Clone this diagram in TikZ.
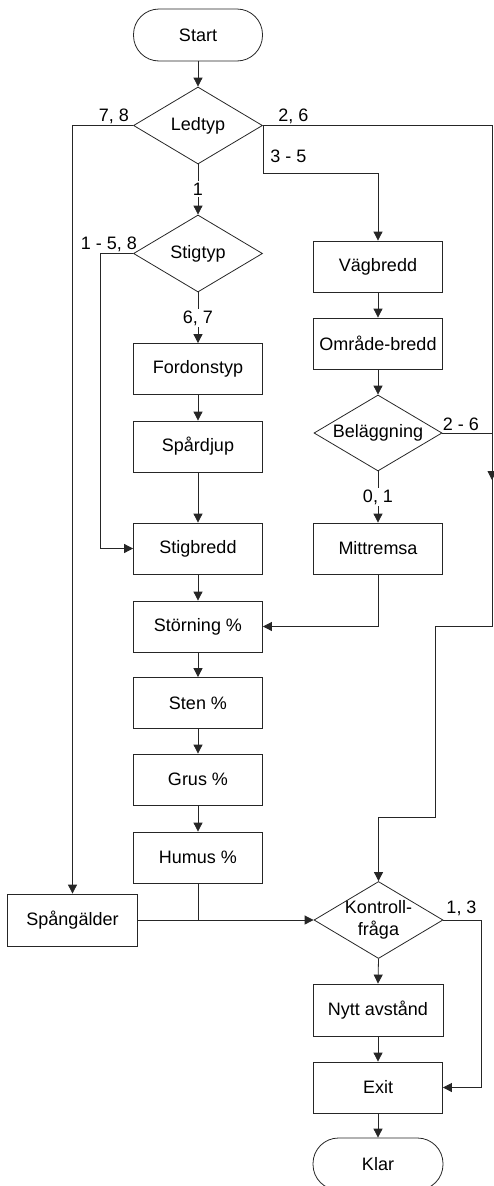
\documentclass[tikz,border=0pt]{standalone}
\usepackage{fontspec}
\setmainfont{Liberation Sans}
\usetikzlibrary{arrows.meta,shapes.geometric}
\begin{document}
\begin{tikzpicture}[x=1pt,y=-1pt,
  every node/.style={font=\fontsize{18}{21.5}\selectfont},
  line/.style={draw=black!85,line width=0.8pt},
  arr/.style={line,-{Triangle[length=9pt,width=9pt]}},
  box/.style={draw=black!85,line width=0.8pt,rectangle,minimum width=129pt,minimum height=51pt,inner sep=0pt},
  term/.style={box,rounded corners=25.5pt,minimum height=52pt},
  dec/.style={draw=black!85,line width=0.8pt,diamond,minimum width=129pt,minimum height=77pt,inner sep=0pt},
  lab/.style={inner sep=1pt},
  onlab/.style={fill=white,inner sep=1.5pt}]
\useasboundingbox (0,0) rectangle (494,1186);
% nodes
\node[term] (start) at (198,35) {Start};
\node[dec,label={center:Ledtyp}] (ledtyp) at (198,125.5) {};
\node[dec,label={center:Stigtyp}] (stigtyp) at (198,253.5) {};
\node[box] (fordon) at (198,369) {Fordonstyp};
\node[box] (spardjup) at (198,446.5) {Spårdjup};
\node[box] (stigbredd) at (198,548.5) {Stigbredd};
\node[box] (storning) at (198,626.5) {Störning \%};
\node[box] (sten) at (198,703) {Sten \%};
\node[box] (grus) at (198,779.5) {Grus \%};
\node[box] (humus) at (198,857.5) {Humus \%};
\node[box,minimum width=130pt,minimum height=52pt] (spang) at (72.5,920) {Spångälder};
\node[box] (vag) at (378,266.5) {Vägbredd};
\node[box] (omrade) at (378,343.5) {Område-bredd};
\node[dec,minimum width=128pt,minimum height=76pt,label={center:Beläggning}] (belagg) at (378,433) {};
\node[box] (mitt) at (378,548.5) {Mittremsa};
\node[dec,label={center:{\begin{tabular}{@{}c@{}}Kontroll-\\fråga\end{tabular}}}] (kontroll) at (378.5,920) {};
\node[box,minimum width=130pt,minimum height=52pt] (nytt) at (378,1010) {Nytt avstånd};
\node[box] (exit) at (378,1087.5) {Exit};
\node[term,minimum width=130pt] (klar) at (378,1164) {Klar};
\coordinate (merge) at (492,480);
% connectors
\draw[arr] (start) -- (ledtyp);
\draw[arr] (ledtyp.west) -| (spang.north);
\draw[arr] (ledtyp.east) -- (492,125.5) -- (492,626.5) -- (435,626.5) -- (435,817) -| (kontroll.north);
\draw[arr] (ledtyp.east) -- ++(0,48) -| (vag.north);
\draw[arr] (ledtyp.south) -- (stigtyp.north);
\draw[arr] (stigtyp.west) -- ++(-33,0) |- (stigbredd.west);
\draw[arr] (stigtyp.south) -- (fordon.north);
\draw[arr] (fordon) -- (spardjup);
\draw[arr] (spardjup) -- (stigbredd);
\draw[arr] (stigbredd) -- (storning);
\draw[arr] (storning) -- (sten);
\draw[arr] (sten) -- (grus);
\draw[arr] (grus) -- (humus);
\draw[arr] (vag) -- (omrade);
\draw[arr] (omrade) -- (belagg.north);
\draw[arr] (belagg.south) -- (mitt.north);
\draw[arr] (mitt.south) |- (storning.east);
\draw[arr] (belagg.east) -| (merge);
\draw[line] (humus.south) -- (humus.south |- kontroll.west);
\draw[arr] (spang.east) -- (kontroll.west);
\draw[arr] (kontroll.south) -- (nytt.north);
\draw[arr] (nytt) -- (exit);
\draw[arr] (exit) -- (klar);
\draw[arr] (kontroll.east) -- (481,920) |- (exit.east);
% labels
\node[lab] (l78) at (114,116) {7, 8};
\node[lab] (l26) at (293.5,116) {2, 6};
\node[lab] (l35) at (288.5,156) {3 - 5};
\node[onlab] (l1) at (198,189) {1};
\node[lab] (l158) at (109,244.5) {1 - 5, 8};
\node[onlab] (l67) at (198,318) {6, 7};
\node[lab] (l26b) at (461,424) {2 - 6};
\node[onlab] (l01) at (378,497) {0, 1};
\node[lab] (l13) at (461.5,908) {1, 3};
\end{tikzpicture}
\end{document}
